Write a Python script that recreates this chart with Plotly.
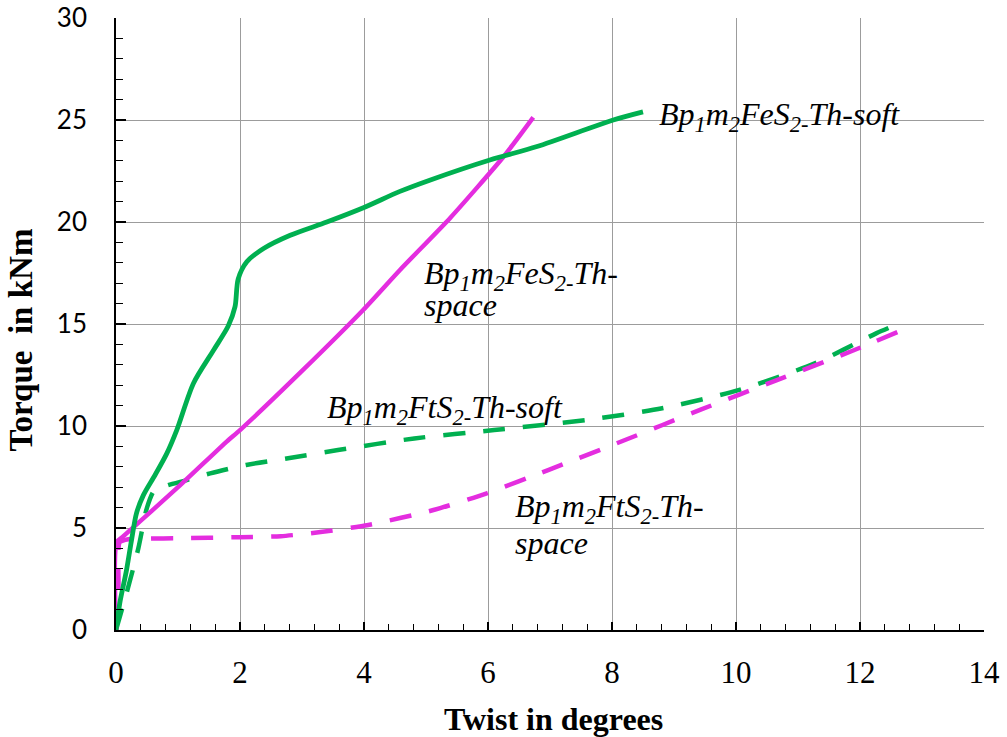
import plotly.graph_objects as go

# Torque (kNm) against twist (degrees) for the four beam specimens
fes_soft_twist = [0, 0.06, 0.17, 0.25, 0.33, 0.44, 0.63, 0.82, 0.98, 1.25, 1.57, 1.81,
                  1.92, 1.97, 2.11, 2.38, 2.81, 3.40, 3.99, 4.58, 5.06, 6.03, 6.79, 8.02, 8.50]
fes_soft_torque = [0, 1.3, 2.94, 4.4, 5.72, 6.6, 7.6, 8.66, 9.8, 12.1, 13.7, 14.9,
                   15.85, 17.2, 18.05, 18.7, 19.35, 20.0, 20.7, 21.5, 22.05, 23.04, 23.7, 25.0, 25.4]

fes_space_twist = [0, 0.01, 0.12, 1.0, 1.79, 2.0, 3.0, 3.99, 4.58, 5.39, 6.25, 6.73]
fes_space_torque = [0, 4.3, 4.6, 7.0, 9.25, 9.8, 12.7, 15.7, 17.65, 20.2, 23.2, 25.13]

fts_soft_twist = [0, 0.17, 0.36, 0.5, 0.62, 0.84, 1.14, 1.52, 2.1, 2.8, 3.58, 4.81,
                  6.1, 7.58, 8.81, 10.04, 11.27, 12.26, 12.51]
fts_soft_torque = [0, 1.8, 4.0, 6.0, 6.85, 7.1, 7.35, 7.68, 8.09, 8.43, 8.82, 9.39,
                   9.8, 10.29, 10.87, 11.76, 13.07, 14.54, 14.87]

fts_space_twist = [0, 0.04, 0.06, 0.2, 0.5, 1.0, 2.0, 2.66, 3.3, 4.07, 5.12, 5.98,
                   6.97, 8.2, 9.43, 10.66, 11.89, 12.65]
fts_space_torque = [0, 2.2, 4.3, 4.45, 4.48, 4.5, 4.55, 4.6, 4.8, 5.15, 5.88, 6.7,
                    7.84, 9.3, 10.8, 12.25, 13.7, 14.66]

x_ticks = [0, 2, 4, 6, 8, 10, 12, 14]
y_ticks = [0, 5, 10, 15, 20, 25, 30]

GREEN = "#00B050"
MAGENTA = "#E42DDF"
DASH = "22px,18px"

fig = go.Figure()
fig.add_trace(go.Scatter(x=fts_soft_twist, y=fts_soft_torque, mode="lines",
                         line=dict(color=GREEN, width=4.5, dash=DASH, shape="spline", smoothing=0.7)))
fig.add_trace(go.Scatter(x=fts_space_twist, y=fts_space_torque, mode="lines",
                         line=dict(color=MAGENTA, width=4.5, dash=DASH, shape="spline", smoothing=0.6)))
fig.add_trace(go.Scatter(x=fes_space_twist, y=fes_space_torque, mode="lines",
                         line=dict(color=MAGENTA, width=4.5, shape="spline", smoothing=0.6)))
fig.add_trace(go.Scatter(x=fes_soft_twist, y=fes_soft_torque, mode="lines",
                         line=dict(color=GREEN, width=4.8, shape="spline", smoothing=0.8)))

serif = "Liberation Serif, Times New Roman, serif"
label_font = dict(family=serif, size=32, color="black")


def label(text, x, y):
    fig.add_annotation(x=x, y=y, xref="x", yref="y", text=f"<i>{text}</i>",
                       showarrow=False, xanchor="left", yanchor="middle", font=label_font)


label("Bp<sub>1</sub>m<sub>2</sub>FeS<sub>2-</sub>Th-soft", 8.72, 25.15)
label("Bp<sub>1</sub>m<sub>2</sub>FeS<sub>2-</sub>Th-", 4.93, 17.4)
label("space", 4.93, 15.95)
label("Bp<sub>1</sub>m<sub>2</sub>FtS<sub>2-</sub>Th-soft", 3.37, 10.8)
label("Bp<sub>1</sub>m<sub>2</sub>FtS<sub>2-</sub>Th-", 6.40, 5.95)
label("space", 6.40, 4.25)

fig.add_annotation(x=-0.11, y=0.474, xref="paper", yref="paper", textangle=-90,
                   xanchor="center", yanchor="middle",
                   text="<b>Torque\u00a0 in kNm</b>", showarrow=False,
                   font=dict(family=serif, size=33, color="black"))
fig.add_annotation(x=0.504, y=-0.112, xref="paper", yref="paper", yanchor="top",
                   text="<b>Twist in degrees</b>", showarrow=False,
                   font=dict(family=serif, size=32, color="black"))

fig.update_layout(
    width=1007, height=737,
    margin=dict(l=116, r=23, t=18, b=107),
    paper_bgcolor="white", plot_bgcolor="white",
    showlegend=False,
    xaxis=dict(range=[0, 14], tickvals=x_ticks, ticktext=[str(v) for v in x_ticks],
               automargin=False,
               showgrid=True, gridcolor="#9C9C9C", gridwidth=1.3,
               showline=True, linecolor="black", linewidth=1.6,
               ticks="inside", ticklen=8, tickwidth=1.6, tickcolor="black",
               minor=dict(dtick=0.4, tick0=0, ticks="inside", ticklen=6, tickwidth=1.4,
                          tickcolor="black", showgrid=False),
               tickfont=dict(family=serif, size=31, color="black"),
               ticklabelstandoff=14, zeroline=False),
    yaxis=dict(range=[0, 30], tickvals=y_ticks, ticktext=[str(v) for v in y_ticks],
               automargin=False,
               showgrid=True, gridcolor="#9C9C9C", gridwidth=1.3,
               showline=True, linecolor="black", linewidth=1.6,
               ticks="inside", ticklen=10, tickwidth=1.6, tickcolor="black",
               minor=dict(dtick=1, tick0=0, ticks="inside", ticklen=7, tickwidth=1.4,
                          tickcolor="black", showgrid=False),
               tickfont=dict(family="Lato, Open Sans, sans-serif", size=26, color="black"),
               ticklabelstandoff=22, zeroline=False),
)

fig.write_html("out.html")
